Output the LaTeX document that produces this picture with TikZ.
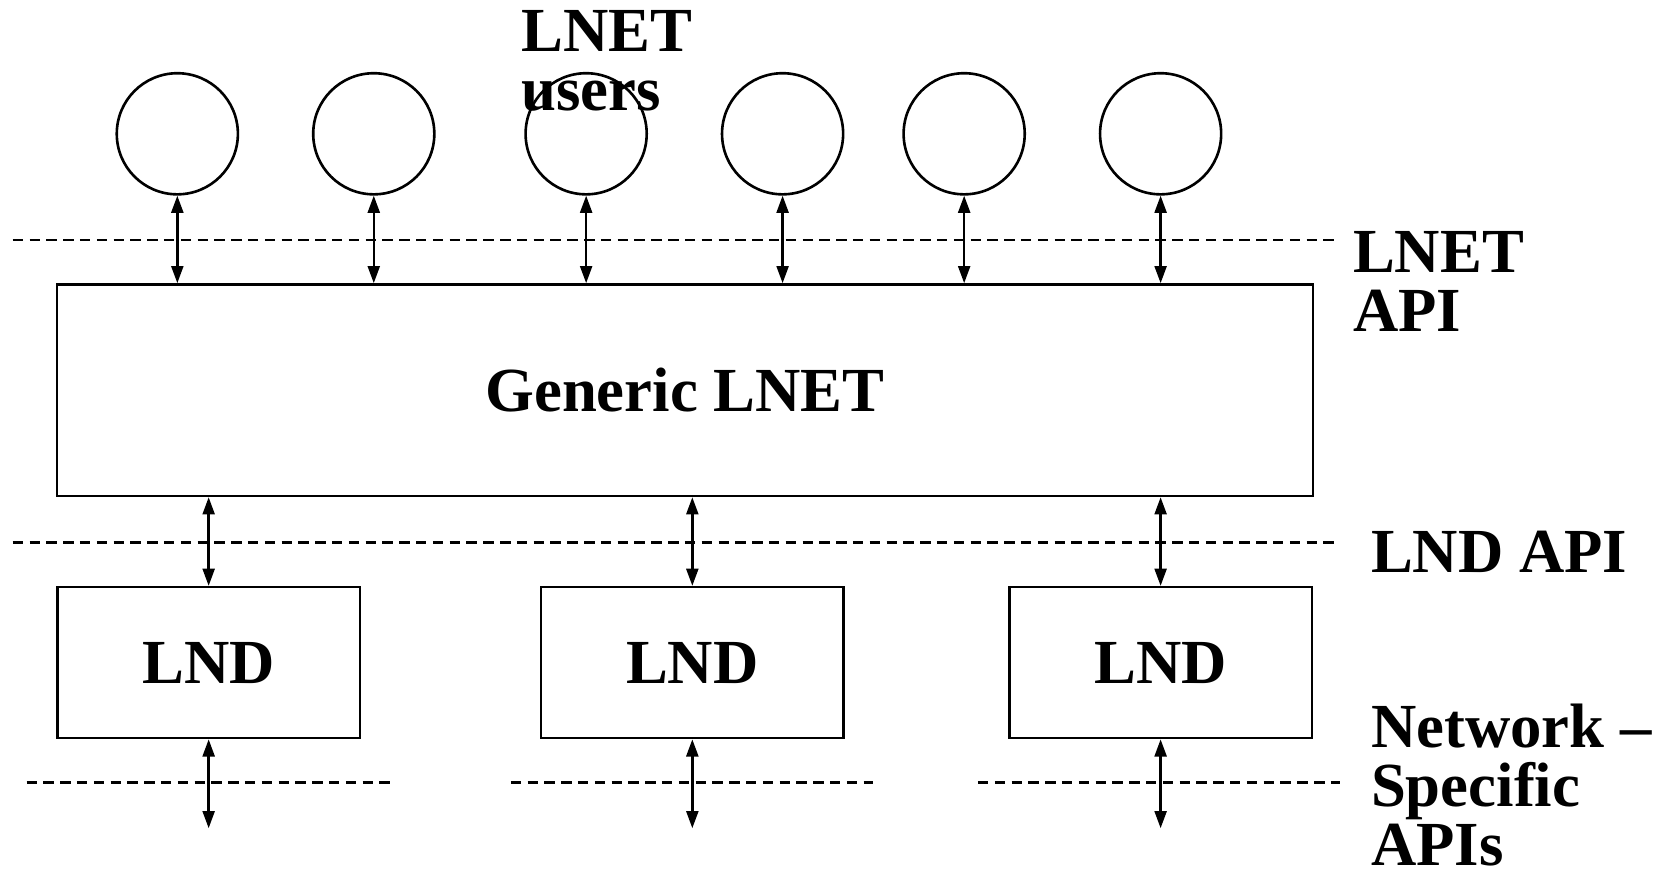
\documentclass[tikz,border=0pt]{standalone}
\usepackage{fontspec}
\setmainfont{Liberation Serif}
\usetikzlibrary{arrows.meta}

\begin{document}
\begin{tikzpicture}[x=0.01cm, y=-0.01cm, line width=0.7pt,
    font=\fontsize{16.8}{15.7}\selectfont\bfseries,
    user/.style = {draw, circle, minimum size=1.14cm, inner sep=0pt},
    box/.style = {draw, rectangle, inner sep=0pt},
    api/.style = {dash pattern=on 2.8pt off 1.7pt, line width=0.65pt},
    link/.style = {{Triangle[length=4.6pt,width=3.2pt]}-{Triangle[length=4.6pt,width=3.2pt]}, line width=0.65pt},
    lbl/.style = {anchor=north west, inner sep=0pt, align=left}]
    \useasboundingbox (0,0) rectangle (1568,819);
    \node[box, minimum width=11.82cm, minimum height=1.99cm] (gen) at (645,367.5) {Generic LNET};
    \foreach \i/\x in {1/167, 2/352, 3/552, 4/737, 5/908, 6/1093} {
        \node[user] (u\i) at (\x,126) {};
        \draw[link] (u\i) -- (u\i |- gen.north);
    }
    \foreach \i/\x in {1/196.5, 2/652, 3/1093} {
        \node[box, minimum width=2.85cm, minimum height=1.42cm] (lnd\i) at (\x,624) {LND};
        \draw[link] (lnd\i) -- (lnd\i |- gen.south);
        \coordinate (net\i) at (\x,780);
        \draw[link] (lnd\i) -- (net\i);
    }
    \draw[api] (12,226) -- (1262,226);
    \draw[api] (12,511) -- (1262,511);
    \foreach \a/\b in {25/367, 481/822, 921/1262}
        \draw[api] (\a,737) -- (\b,737);
    \node[lbl] (users) at (490,9) {LNET\\users};
    \node[lbl] (lnetapi) at (1273,217) {LNET\\API};
    \node[lbl] (lndapi) at (1290,499) {LND API};
    \node[lbl] (netapi) at (1290,662) {Network –\\Specific\\APIs};
\end{tikzpicture}
\end{document}
